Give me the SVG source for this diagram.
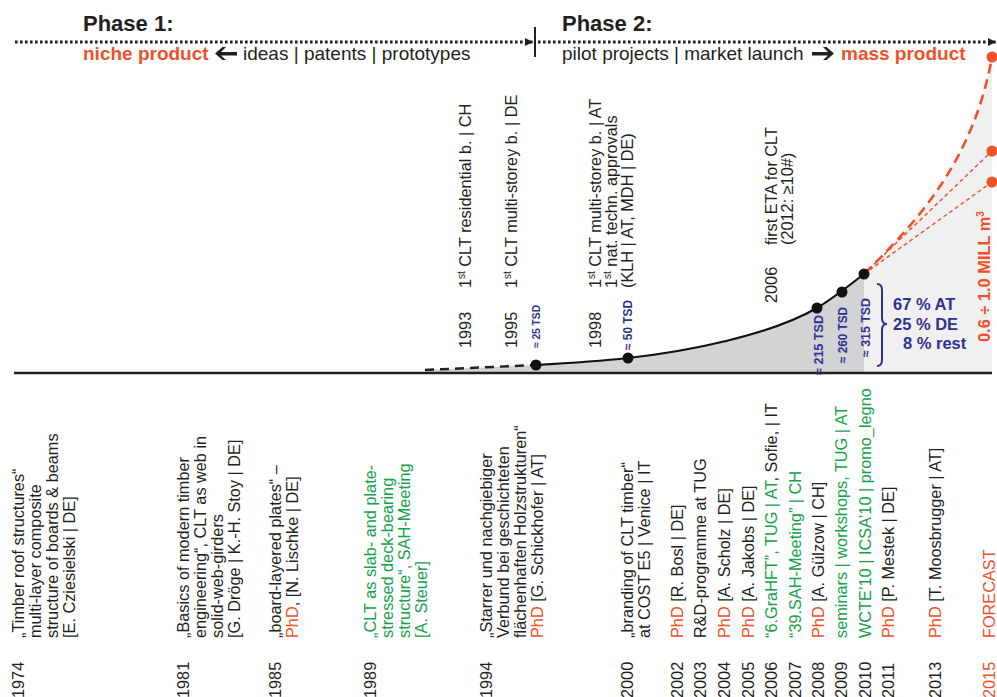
<svg xmlns="http://www.w3.org/2000/svg" width="997" height="697" viewBox="0 0 997 697">
<defs>
<style>
.t{font-family:"Liberation Sans",Arial,sans-serif;font-size:16.3px;fill:#231f20}
.h{font-family:"Liberation Sans",Arial,sans-serif;font-size:22px;font-weight:bold;fill:#231f20}
.s{font-family:"Liberation Sans",Arial,sans-serif;font-size:19px;fill:#231f20}
.sb{font-weight:bold;fill:#f0502a}
.g{fill:#14a24b}
.o{fill:#f0502a}
.bl{font-family:"Liberation Sans",Arial,sans-serif;font-weight:bold;fill:#2e3192}
.sup{font-size:10px}
.dot{stroke:#231f20;stroke-width:3;stroke-dasharray:2.6 2.4;fill:none}
.blk{fill:#111}
.red{fill:#f0502a}
</style>
<marker id="ah" viewBox="0 0 10 10" refX="10" refY="5" markerWidth="8" markerHeight="8" markerUnits="userSpaceOnUse" orient="auto">
<path d="M0,0 L10,5 L0,10 Z" fill="#231f20"/>
</marker>
</defs>
<rect width="997" height="697" fill="#ffffff"/>

<g id="areas">
<path d="M425,373 L425,370 L536,365 C570,363 600,361 628,358 C690,351 770,335 817,308 C830,300 850,285 864,274 L864,373 Z" fill="#d2d3d5"/>
<path d="M864,274 C930,210 975,150 992,57 L992,373 L864,373 Z" fill="#f0f0f0"/>
</g>

<g id="phase1">
<text class="h" x="83" y="31">Phase 1:</text>
<text class="s" x="83" y="60"><tspan class="sb">niche product</tspan></text>
<path d="M215,53.5 L222.5,47 L226,47 L221,52 L237,52 L237,55.5 L221,55.5 L226,60 L222.5,60 Z" fill="#231f20"/>
<text class="s" x="243" y="60">ideas | patents | prototypes</text>
</g>
<g id="phase2">
<text class="h" x="562" y="31">Phase 2:</text>
<text class="s" x="562" y="60">pilot projects | market launch</text>
<path d="M834,53.5 L826.5,47 L823,47 L828,52 L812,52 L812,55.5 L828,55.5 L823,60 L826.5,60 Z" fill="#231f20"/>
<text class="s" x="841" y="60"><tspan class="sb">mass product</tspan></text>
</g>

<g id="connectors">
<line class="dot" x1="15" y1="42" x2="533" y2="42" marker-end="url(#ah)"/>
<line x1="535" y1="27" x2="535" y2="57" stroke="#231f20" stroke-width="2"/>
<line class="dot" x1="538" y1="42" x2="996" y2="42" marker-end="url(#ah)"/>
<line x1="14" y1="373" x2="992" y2="373" stroke="#231f20" stroke-width="2.5"/>
<path d="M425,370 L536,365" stroke="#231f20" stroke-width="2.5" stroke-dasharray="9 6" fill="none"/>
<path d="M536,365 C570,363 600,361 628,358 C690,351 770,335 817,308 C830,300 850,285 864,274" stroke="#111" stroke-width="2.2" fill="none"/>
<path d="M864,274 C930,210 975,150 992,57" stroke="#f0502a" stroke-width="2.6" stroke-dasharray="10 6" fill="none"/>
<path d="M864,274 L992,151" stroke="#f0502a" stroke-width="1.4" stroke-dasharray="4 3" fill="none"/>
<path d="M864,274 L992,182" stroke="#f0502a" stroke-width="1.4" stroke-dasharray="4 3" fill="none"/>
<path d="M877,284 Q882,284 882,290 L882,318 Q882,324 887,324 Q882,324 882,330 L882,360 Q882,366 877,366" stroke="#2e3192" stroke-width="2" fill="none"/>
</g>

<g id="points">
<circle class="blk" cx="536" cy="365" r="5.5"/>
<circle class="blk" cx="628" cy="358" r="5.5"/>
<circle class="blk" cx="817" cy="308" r="5.5"/>
<circle class="blk" cx="842" cy="292" r="5.5"/>
<circle class="blk" cx="864" cy="274" r="5.5"/>
<circle class="red" cx="992" cy="57" r="5.5"/>
<circle class="red" cx="992" cy="151" r="5.5"/>
<circle class="red" cx="992" cy="182" r="5.5"/>
</g>

<g id="tsd">
<text class="bl" font-size="11" textLength="43" lengthAdjust="spacingAndGlyphs" transform="translate(540,348) rotate(-90)">≈ 25 TSD</text>
<text class="bl" font-size="12" textLength="50" lengthAdjust="spacingAndGlyphs" transform="translate(632,350) rotate(-90)">≈ 50 TSD</text>
<text class="bl" font-size="12.5" textLength="60" lengthAdjust="spacingAndGlyphs" transform="translate(823,375) rotate(-90)">≈ 215 TSD</text>
<text class="bl" font-size="12.5" textLength="56" lengthAdjust="spacingAndGlyphs" transform="translate(847,363) rotate(-90)">≈ 260 TSD</text>
<text class="bl" font-size="12.5" textLength="59" lengthAdjust="spacingAndGlyphs" transform="translate(870,357) rotate(-90)">≈ 315 TSD</text>
</g>

<g id="shares">
<text class="bl" font-size="16.5" x="893" y="310">67 % AT</text>
<text class="bl" font-size="16.5" x="893" y="330">25 % DE</text>
<text class="bl" font-size="16.5" x="903" y="349">8 % rest</text>
</g>

<g id="forecast-volume">
<text class="bl" font-size="16.4" style="fill:#f0502a" transform="translate(990,342) rotate(-90)">0.6 ÷ 1.0 MILL m<tspan font-size="10" dy="-6">3</tspan></text>
</g>

<g id="m1993">
<text class="t" transform="translate(471,348) rotate(-90)">1993</text>
<text class="t" transform="translate(471,288) rotate(-90)">1<tspan class="sup" dy="-6">st</tspan><tspan dy="6"> CLT residential b. | CH</tspan></text>
</g>
<g id="m1995">
<text class="t" transform="translate(517,348) rotate(-90)">1995</text>
<text class="t" transform="translate(517,288) rotate(-90)">1<tspan class="sup" dy="-6">st</tspan><tspan dy="6"> CLT multi-storey b. | DE</tspan></text>
</g>
<g id="m1998">
<text class="t" transform="translate(601,348) rotate(-90)">1998</text>
<text class="t" transform="translate(601,288) rotate(-90)"><tspan x="0" y="0">1</tspan><tspan class="sup" dy="-6">st</tspan><tspan dy="6"> CLT multi-storey b. | AT</tspan><tspan x="0" y="16">1</tspan><tspan class="sup" dy="-6">st</tspan><tspan dy="6"> nat. techn. approvals</tspan><tspan x="0" y="32">(KLH | AT, MDH | DE)</tspan></text>
</g>
<g id="m2006">
<text class="t" transform="translate(777,303) rotate(-90)">2006</text>
<text class="t" transform="translate(777,245) rotate(-90)"><tspan x="0" y="0">first ETA for CLT</tspan><tspan x="0" y="16">(2012: ≥10#)</tspan></text>
</g>

<g id="e1974">
<text class="t" transform="translate(24,698) rotate(-90)">1974</text>
<text class="t" transform="translate(24,638) rotate(-90)"><tspan x="0" y="0">„Timber roof structures“</tspan><tspan x="0" y="17">multi-layer composite</tspan><tspan x="0" y="34">structure of boards &amp; beams</tspan><tspan x="0" y="51">[E. Cziesielski | DE]</tspan></text>
</g>
<g id="e1981">
<text class="t" transform="translate(189,698) rotate(-90)">1981</text>
<text class="t" transform="translate(189,638) rotate(-90)"><tspan x="0" y="0">„Basics of modern timber</tspan><tspan x="0" y="17">engineering“, CLT as web in</tspan><tspan x="0" y="34">solid-web-girders</tspan><tspan x="0" y="51">[G. Dröge | K.-H. Stoy | DE]</tspan></text>
</g>
<g id="e1985">
<text class="t" transform="translate(281,698) rotate(-90)">1985</text>
<text class="t" transform="translate(281,638) rotate(-90)"><tspan x="0" y="0">„board-layered plates“ –</tspan><tspan x="0" y="17" class="o">PhD</tspan><tspan>, [N. Lischke | DE]</tspan></text>
</g>
<g id="e1989">
<text class="t" transform="translate(376,698) rotate(-90)">1989</text>
<text class="t g" transform="translate(376,638) rotate(-90)"><tspan x="0" y="0">„CLT as slab- and plate-</tspan><tspan x="0" y="17">stressed deck-bearing</tspan><tspan x="0" y="34">structure“, SAH-Meeting</tspan><tspan x="0" y="51">[A. Steuer]</tspan></text>
</g>
<g id="e1994">
<text class="t" transform="translate(492,698) rotate(-90)">1994</text>
<text class="t" transform="translate(492,638) rotate(-90)"><tspan x="0" y="0">„Starrer und nachgiebiger</tspan><tspan x="0" y="17">Verbund bei geschichteten</tspan><tspan x="0" y="34">flächenhaften Holzstrukturen“</tspan><tspan x="0" y="51" class="o">PhD</tspan><tspan> [G. Schickhofer | AT]</tspan></text>
</g>
<g id="e2000">
<text class="t" transform="translate(633,698) rotate(-90)">2000</text>
<text class="t" transform="translate(633,638) rotate(-90)"><tspan x="0" y="0">„branding of CLT timber“</tspan><tspan x="0" y="17">at COST E5 | Venice | IT</tspan></text>
</g>
<g id="e2002">
<text class="t" transform="translate(683,698) rotate(-90)">2002</text>
<text class="t" transform="translate(683,638) rotate(-90)"><tspan class="o">PhD</tspan> [R. Bosl | DE]</text>
</g>
<g id="e2003">
<text class="t" transform="translate(706,698) rotate(-90)">2003</text>
<text class="t" transform="translate(706,638) rotate(-90)">R&amp;D-programme at TUG</text>
</g>
<g id="e2004">
<text class="t" transform="translate(730,698) rotate(-90)">2004</text>
<text class="t" transform="translate(730,638) rotate(-90)"><tspan class="o">PhD</tspan> [A. Scholz | DE]</text>
</g>
<g id="e2005">
<text class="t" transform="translate(754,698) rotate(-90)">2005</text>
<text class="t" transform="translate(754,638) rotate(-90)"><tspan class="o">PhD</tspan> [A. Jakobs | DE]</text>
</g>
<g id="e2006">
<text class="t" transform="translate(777,698) rotate(-90)">2006</text>
<text class="t" transform="translate(777,638) rotate(-90)"><tspan class="g">“6.GraHFT”, TUG | AT</tspan>, Sofie, | IT</text>
</g>
<g id="e2007">
<text class="t" transform="translate(801,698) rotate(-90)">2007</text>
<text class="t g" transform="translate(801,638) rotate(-90)">“39.SAH-Meeting” | CH</text>
</g>
<g id="e2008">
<text class="t" transform="translate(824,698) rotate(-90)">2008</text>
<text class="t" transform="translate(824,638) rotate(-90)"><tspan class="o">PhD</tspan> [A. Gülzow | CH]</text>
</g>
<g id="e2009">
<text class="t" transform="translate(847,698) rotate(-90)">2009</text>
<text class="t g" transform="translate(847,638) rotate(-90)">seminars | workshops, TUG | AT</text>
</g>
<g id="e2010">
<text class="t" transform="translate(871,698) rotate(-90)">2010</text>
<text class="t g" transform="translate(871,638) rotate(-90)">WCTE’10 | ICSA’10 | promo_legno</text>
</g>
<g id="e2011">
<text class="t" transform="translate(894,698) rotate(-90)">2011</text>
<text class="t" transform="translate(894,638) rotate(-90)"><tspan class="o">PhD</tspan> [P. Mestek | DE]</text>
</g>
<g id="e2013">
<text class="t" transform="translate(941,698) rotate(-90)">2013</text>
<text class="t" transform="translate(941,638) rotate(-90)"><tspan class="o">PhD</tspan> [T. Moosbrugger | AT]</text>
</g>
<g id="e2015">
<text class="t o" transform="translate(995,698) rotate(-90)">2015</text>
<text class="t o" transform="translate(995,638) rotate(-90)">FORECAST</text>
</g>
</svg>
